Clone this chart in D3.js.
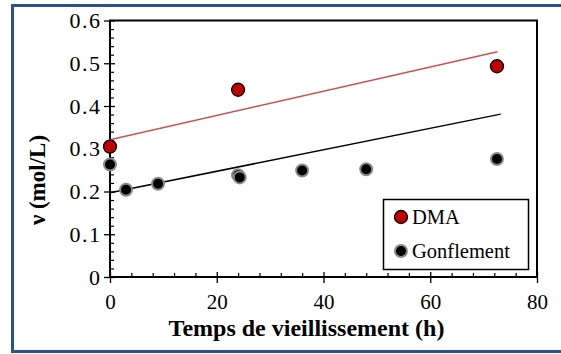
<!DOCTYPE html>
<html><head><meta charset="utf-8">
<script src="https://cdn.jsdelivr.net/npm/d3@7"></script>
<style>body{margin:0;background:#fff}svg{display:block}</style>
</head><body><svg id="c" width="561" height="354"></svg>
<script>
// Data
const dmaX = [0, 24, 72.5];
const dmaY = [0.305, 0.438, 0.493];
const gonX = [0, 3, 9, 24, 24.3, 36, 48, 72.5];
const gonY = [0.263, 0.204, 0.218, 0.238, 0.233, 0.249, 0.252, 0.276];
const dmaFitX = [0, 72.6];
const dmaFitY = [0.321, 0.527];
const gonFitX = [0, 73.2];
const gonFitY = [0.197, 0.381];
const xTicks = [0, 20, 40, 60, 80];
const yTicks = [0, 0.1, 0.2, 0.3, 0.4, 0.5, 0.6];
const legendLabels = ["DMA", "Gonflement"];

const FONT = "'Liberation Serif', 'Times New Roman', serif";
const svg = d3.select("#c");
const L = 110, R = 537, T = 20.5, B = 277;
const x = d3.scaleLinear().domain([0, 80]).range([L, R]);
const y = d3.scaleLinear().domain([0, 0.6]).range([B, T]);

// outer border
svg.append("rect").attr("x", 12.5).attr("y", 5.5).attr("width", 560).attr("height", 346)
  .attr("fill", "none").attr("stroke", "#2a5286").attr("stroke-width", 3);

// minor ticks (inside)
const xMinor = d3.range(0, 80.001, 4).filter(v => v % 20 !== 0);
const yMinor = d3.range(0, 0.6001, 0.02).filter(v => Math.abs(Math.round(v * 10) - v * 10) > 1e-6);
const gx = svg.append("g").attr("transform", `translate(0,${B})`)
  .call(d3.axisBottom(x).tickValues(xMinor).tickSize(-4).tickFormat(""));
const gy = svg.append("g").attr("transform", `translate(${L},0)`)
  .call(d3.axisLeft(y).tickValues(yMinor).tickSize(-4).tickFormat(""));
[gx, gy].forEach(g => { g.select(".domain").remove(); g.selectAll("line").attr("stroke", "#000").attr("stroke-width", 1.2); });

// major ticks
const gxM = svg.append("g").attr("transform", `translate(0,${B})`)
  .call(d3.axisBottom(x).tickValues(xTicks).tickSize(6).tickPadding(11).tickFormat(d3.format("d")));
gxM.attr("font-family", null).attr("font-size", null);
gxM.select(".domain").remove();
gxM.selectAll("line").attr("y1", -5).attr("stroke", "#000").attr("stroke-width", 1.3);
gxM.selectAll("text").style("font-size", "21px").style("font-family", FONT).attr("fill", "#000");
const gyM = svg.append("g").attr("transform", `translate(${L},0)`)
  .call(d3.axisLeft(y).tickValues(yTicks).tickSize(6).tickPadding(2.5).tickFormat(d => d === 0 ? "0" : d3.format(".1f")(d)));
gyM.attr("font-family", null).attr("font-size", null);
gyM.select(".domain").remove();
gyM.selectAll("line").attr("x1", 5).attr("stroke", "#000").attr("stroke-width", 1.3);
gyM.selectAll("text").style("font-size", "22px").style("letter-spacing", "1.5px").style("font-family", FONT).attr("fill", "#000");

// frame
svg.append("rect").attr("x", L).attr("y", T).attr("width", R - L).attr("height", B - T)
  .attr("fill", "none").attr("stroke", "#000").attr("stroke-width", 2);

// fit lines
const line = d3.line().x(d => x(d[0])).y(d => y(d[1]));
svg.append("path").datum(dmaFitX.map((v, i) => [v, dmaFitY[i]])).attr("d", line)
  .attr("fill", "none").attr("stroke", "#c9524f").attr("stroke-width", 1.5);
svg.append("path").datum(gonFitX.map((v, i) => [v, gonFitY[i]])).attr("d", line)
  .attr("fill", "none").attr("stroke", "#000").attr("stroke-width", 1.5);

// markers
function gonMarker(sel) {
  sel.attr("r", 6).attr("fill", "#000").attr("stroke", "#8a8a8a").attr("stroke-width", 2);
}
function dmaMarker(sel) {
  sel.attr("r", 6.5).attr("fill", "#c00000").attr("stroke", "#000").attr("stroke-width", 1.3);
}
svg.append("g").selectAll("circle").data(gonX.map((v, i) => [v, gonY[i]])).join("circle")
  .attr("cx", d => x(d[0])).attr("cy", d => y(d[1])).call(gonMarker);
svg.append("g").selectAll("circle").data(dmaX.map((v, i) => [v, dmaY[i]])).join("circle")
  .attr("cx", d => x(d[0])).attr("cy", d => y(d[1])).call(dmaMarker);

// legend
const lg = svg.append("g");
lg.append("rect").attr("x", 383.5).attr("y", 199.5).attr("width", 145).attr("height", 70)
  .attr("fill", "#fff").attr("stroke", "#000").attr("stroke-width", 1.5);
lg.append("circle").attr("cx", 401).attr("cy", 217).call(dmaMarker);
lg.append("circle").attr("cx", 401).attr("cy", 251).call(gonMarker);
lg.append("text").attr("x", 412).attr("y", 224).style("font-size", "20.5px").style("font-family", FONT).text(legendLabels[0]);
lg.append("text").attr("x", 412).attr("y", 258).style("font-size", "20.5px").style("font-family", FONT).text(legendLabels[1]);

// axis titles
svg.append("text").attr("x", 306.5).attr("y", 336).attr("text-anchor", "middle")
  .style("font-size", "24px").style("font-family", FONT).attr("font-weight", "bold").text("Temps de vieillissement (h)");
svg.append("text").attr("transform", "translate(45,180) rotate(-90)").attr("text-anchor", "middle")
  .style("font-size", "23px").style("font-family", FONT).attr("font-weight", "bold").text("ν (mol/L)");
</script></body></html>
